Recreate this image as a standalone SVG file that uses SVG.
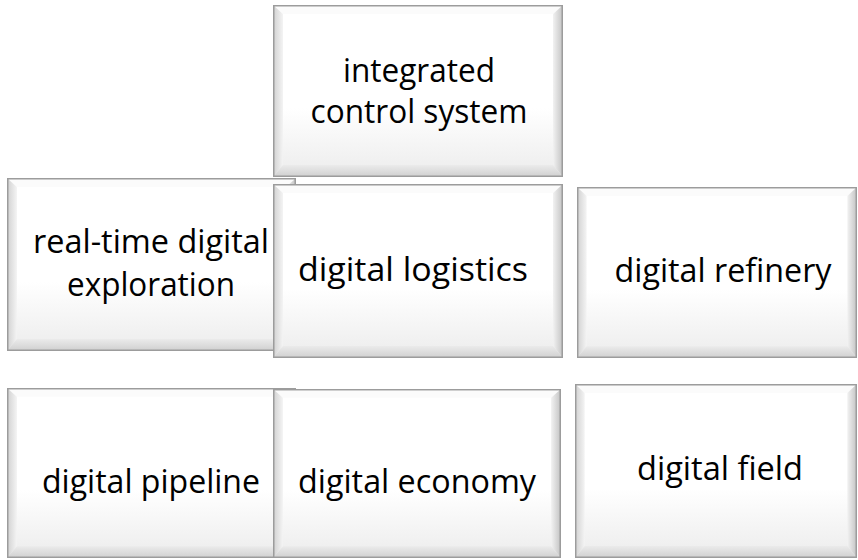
<svg xmlns="http://www.w3.org/2000/svg" xmlns:xlink="http://www.w3.org/1999/xlink" width="858" height="560" viewBox="0 0 858 560">
  <style>
    .lbl { font-family: "Open Sans", "Noto Sans", "Liberation Sans", sans-serif; font-size: 32px; fill: #000; text-anchor: middle; }
  </style>
  <defs>
    <linearGradient id="gFace" x1="0" y1="0" x2="0" y2="1">
      <stop offset="0" stop-color="#ffffff"/>
      <stop offset="0.6" stop-color="#ffffff"/>
      <stop offset="1" stop-color="#ececec"/>
    </linearGradient>
    <linearGradient id="gLeft" x1="0" y1="0" x2="1" y2="0">
      <stop offset="0" stop-color="#d0d0d0"/>
      <stop offset="1" stop-color="#f4f4f4"/>
    </linearGradient>
    <linearGradient id="gRight" x1="0" y1="0" x2="1" y2="0">
      <stop offset="0" stop-color="#f2f2f2"/>
      <stop offset="1" stop-color="#c2c2c2"/>
    </linearGradient>
    <linearGradient id="gBottom" x1="0" y1="0" x2="0" y2="1">
      <stop offset="0" stop-color="#ebebeb"/>
      <stop offset="1" stop-color="#cfcfcf"/>
    </linearGradient>
    <!-- bevelled button shape, scaled per node -->
    <symbol id="bevel" viewBox="0 0 290 173" preserveAspectRatio="none">
      <rect x="0" y="0" width="290" height="173" fill="url(#gFace)"/>
      <polygon points="0,0 290,0 280,9 10,9" fill="#fbfbfb"/>
      <polygon points="0,0 10,9 10,161 0,173" fill="url(#gLeft)"/>
      <polygon points="290,0 290,173 280,161 280,9" fill="url(#gRight)"/>
      <polygon points="0,173 290,173 280,161 10,161" fill="url(#gBottom)"/>
      <rect x="0.75" y="0.75" width="288.5" height="171.5" fill="none" stroke="#9c9c9c" stroke-width="1.5"/>
    </symbol>
  </defs>
  <rect width="858" height="560" fill="#ffffff"/>

  <g id="connectors"/>

  <g id="node-exploration">
    <use xlink:href="#bevel" x="7" y="178" width="289" height="173"/>
    <text class="lbl" x="151" y="253" textLength="236" lengthAdjust="spacingAndGlyphs">real-time digital</text>
    <text class="lbl" x="151" y="296" textLength="168" lengthAdjust="spacingAndGlyphs">exploration</text>
  </g>

  <g id="node-control">
    <use xlink:href="#bevel" x="273" y="5" width="290" height="172"/>
    <text class="lbl" x="419" y="82" textLength="152" lengthAdjust="spacingAndGlyphs">integrated</text>
    <text class="lbl" x="419" y="123" textLength="217" lengthAdjust="spacingAndGlyphs">control system</text>
  </g>

  <g id="node-logistics">
    <use xlink:href="#bevel" x="273" y="184" width="290" height="174"/>
    <text class="lbl" x="413" y="281" textLength="230" lengthAdjust="spacingAndGlyphs">digital logistics</text>
  </g>

  <g id="node-refinery">
    <use xlink:href="#bevel" x="577" y="187" width="280" height="171"/>
    <text class="lbl" x="723" y="282" textLength="217" lengthAdjust="spacingAndGlyphs">digital refinery</text>
  </g>

  <g id="node-pipeline">
    <use xlink:href="#bevel" x="7" y="388" width="289" height="170"/>
    <text class="lbl" x="151" y="493" textLength="218" lengthAdjust="spacingAndGlyphs">digital pipeline</text>
  </g>

  <g id="node-economy">
    <use xlink:href="#bevel" x="273" y="389" width="288" height="169"/>
    <text class="lbl" x="417" y="493" textLength="238" lengthAdjust="spacingAndGlyphs">digital economy</text>
  </g>

  <g id="node-field">
    <use xlink:href="#bevel" x="575" y="384" width="282" height="174"/>
    <text class="lbl" x="720" y="480" textLength="166" lengthAdjust="spacingAndGlyphs">digital field</text>
  </g>
</svg>
